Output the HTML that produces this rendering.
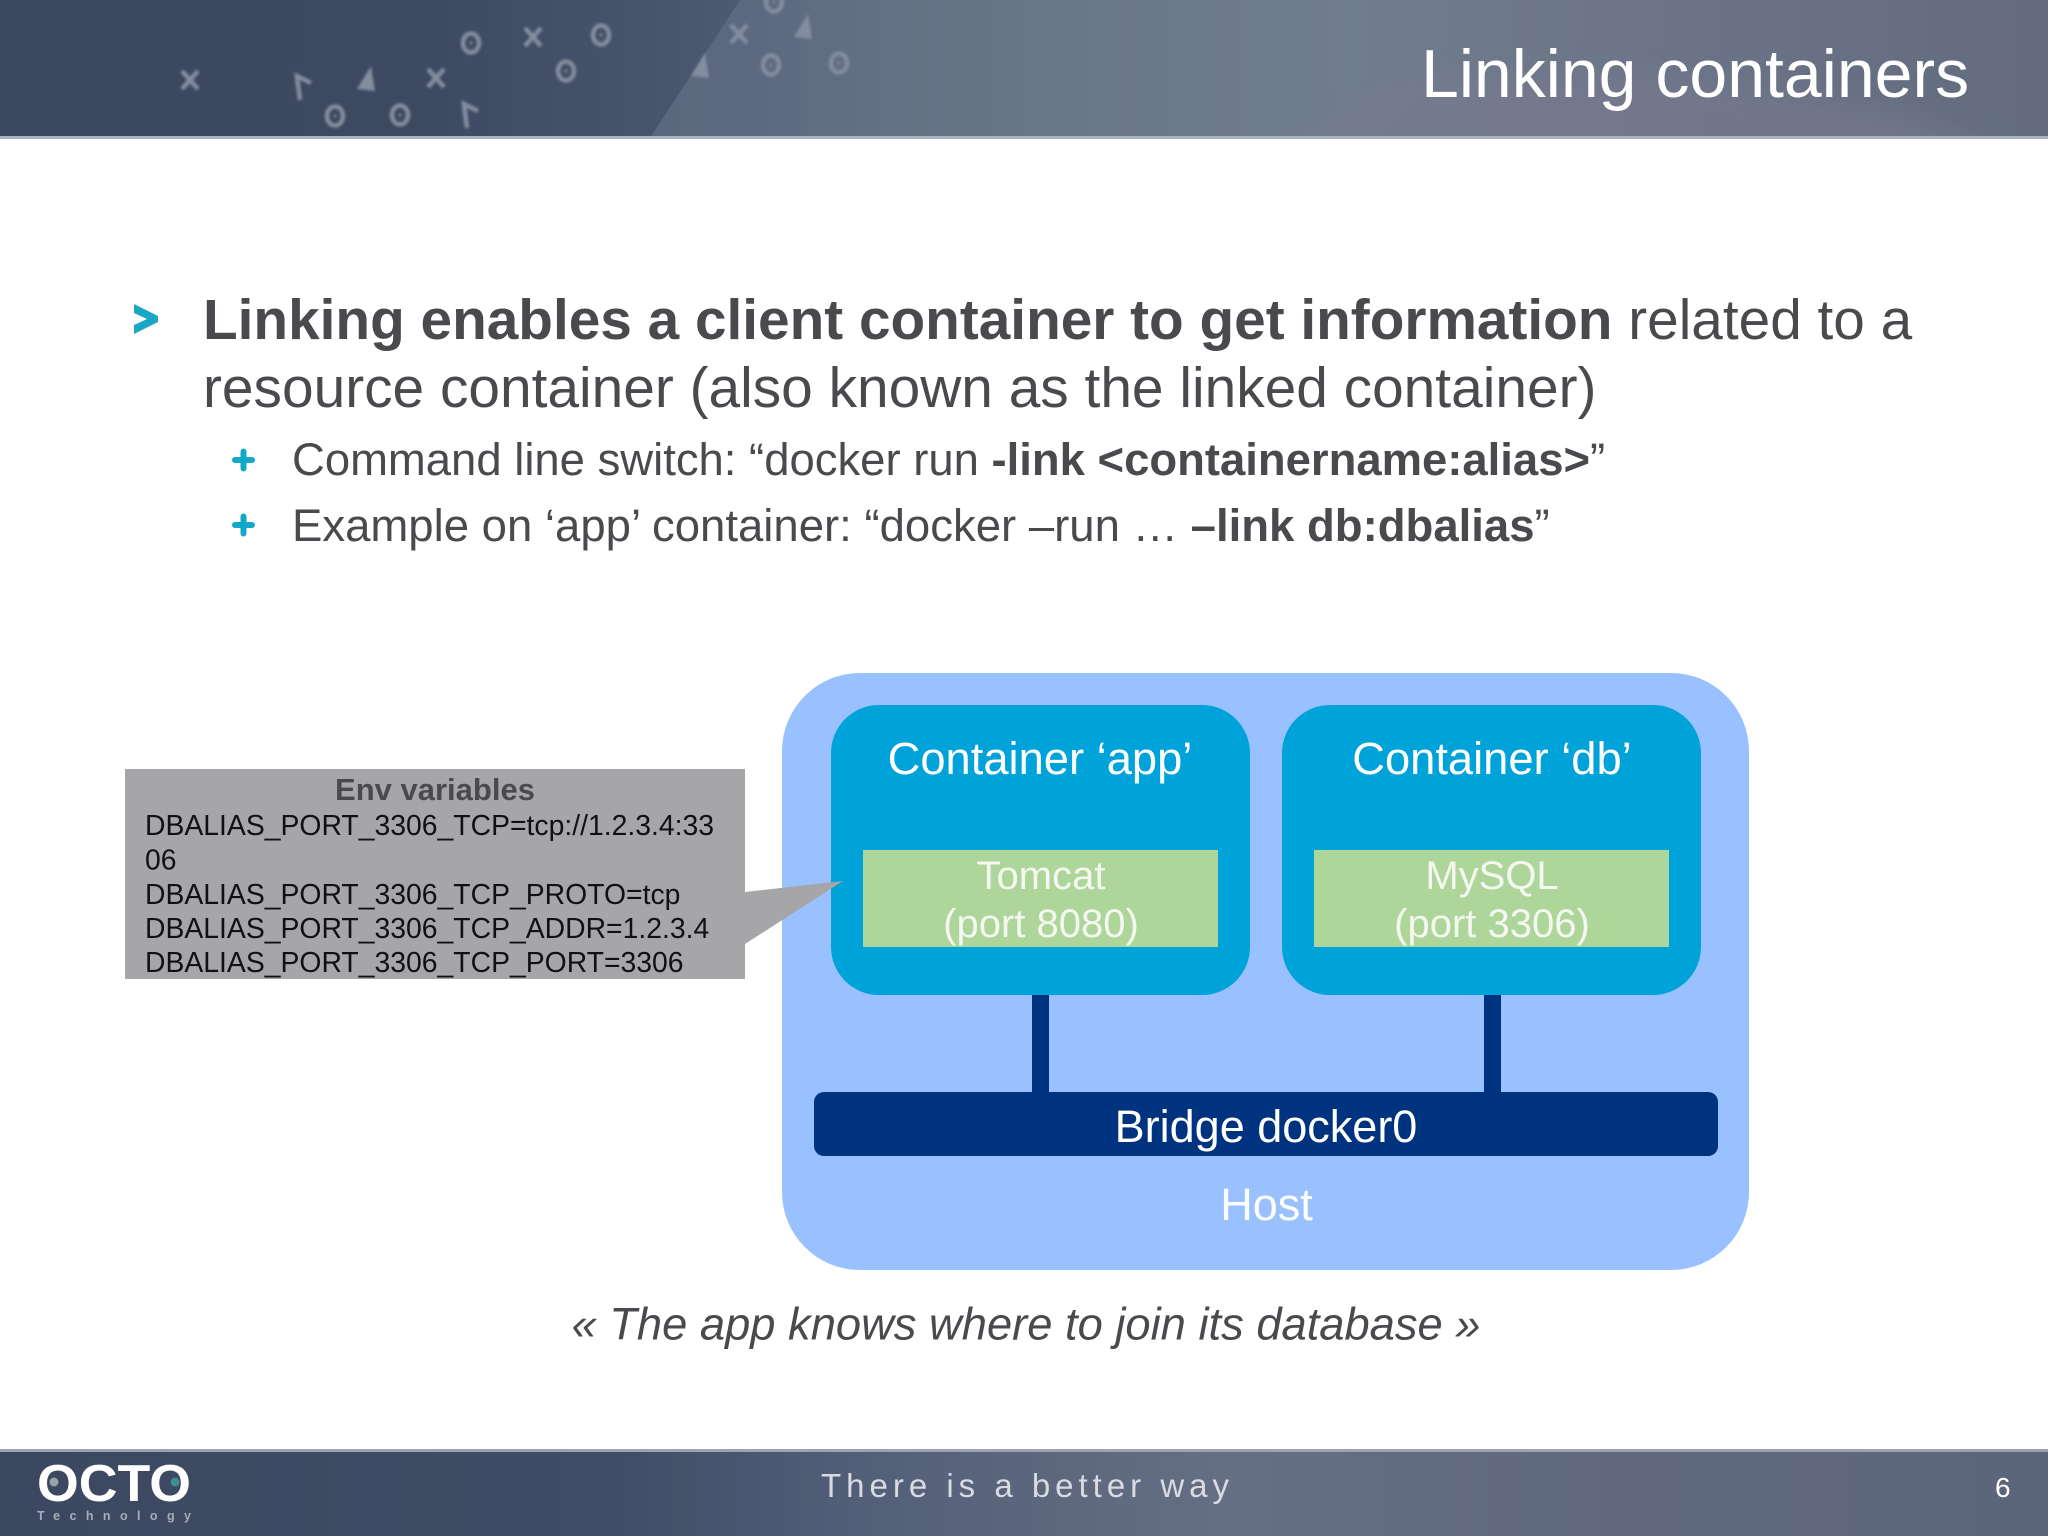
<!DOCTYPE html>
<html lang="en">
<head>
<meta charset="utf-8">
<title>Linking containers</title>
<style>
html,body{margin:0;padding:0;background:#fff}
svg{display:block}
text{font-family:"Liberation Sans",Arial,sans-serif}
</style>
</head>
<body>
<svg xmlns="http://www.w3.org/2000/svg" width="2048" height="1536" viewBox="0 0 2048 1536">
<defs>
<linearGradient id="hg" x1="0" y1="0" x2="1" y2="0">
<stop offset="0" stop-color="#3c4860"/>
<stop offset=".2" stop-color="#3d4961"/>
<stop offset=".3" stop-color="#455269"/>
<stop offset=".36" stop-color="#4c5a72"/>
<stop offset=".39" stop-color="#5f6c82"/>
<stop offset=".44" stop-color="#637284"/>
<stop offset=".54" stop-color="#6b7889"/>
<stop offset=".66" stop-color="#707d8c"/>
<stop offset=".8" stop-color="#6c7588"/>
<stop offset="1" stop-color="#626c7e"/>
</linearGradient>
<linearGradient id="fg" x1="0" y1="0" x2="1" y2="0">
<stop offset="0" stop-color="#3c4860"/>
<stop offset=".3" stop-color="#414d66"/>
<stop offset=".42" stop-color="#535f78"/>
<stop offset=".6" stop-color="#656f84"/>
<stop offset=".8" stop-color="#5f687d"/>
<stop offset="1" stop-color="#5c667a"/>
</linearGradient>
<clipPath id="hc"><rect x="0" y="0" width="2048" height="138"/></clipPath>
<filter id="b1" x="-10%" y="-10%" width="120%" height="120%"><feGaussianBlur stdDeviation="1.2"/></filter>
<filter id="b2" x="-10%" y="-50%" width="120%" height="200%"><feGaussianBlur stdDeviation="12"/></filter>
<g id="o"><ellipse cx="0" cy="0" rx="8" ry="9.5" fill="none" stroke="#828d9f" stroke-width="4.5"/><circle r="1.5" fill="#828d9f"/></g>
<g id="x"><path d="M-8,-9 L8,9 M8,-9 L-8,9" fill="none" stroke="#828d9f" stroke-width="4.5"/></g>
<g id="t"><path d="M-9,11 L5,-12 L9,13 Z" fill="#828d9f"/></g>
<g id="r"><path d="M-3,14 L-6,-10 L8,-3 M-6,-10 L-5,0" fill="none" stroke="#828d9f" stroke-width="4.5"/></g>
</defs>

<!-- header -->
<rect x="0" y="0" width="2048" height="138" fill="url(#hg)"/>
<polygon points="650,138 740,0 800,0 800,138" fill="#5e6b81" opacity=".85"/>
<g clip-path="url(#hc)">
<polygon points="1260,170 1400,80 1620,70 1900,110 2048,170" fill="#7a7a90" opacity=".5" filter="url(#b2)"/>
</g>
<rect x="0" y="136" width="2048" height="3" fill="#a8b2c0"/>
<g filter="url(#b1)">
<use href="#x" x="190" y="80"/>
<use href="#r" x="303" y="86"/>
<use href="#t" x="366" y="78"/>
<use href="#x" x="436" y="78"/>
<use href="#o" x="335" y="116"/>
<use href="#o" x="400" y="115"/>
<use href="#r" x="470" y="114"/>
<use href="#o" x="471" y="43"/>
<use href="#x" x="533" y="37"/>
<use href="#o" x="601" y="35"/>
<use href="#o" x="566" y="71"/>
<use href="#t" x="700" y="65"/>
<use href="#o" x="771" y="65"/>
<use href="#o" x="839" y="63"/>
<use href="#x" x="739" y="34"/>
<use href="#t" x="803" y="26"/>
<use href="#o" x="774" y="2"/>
</g>
<text x="1421" y="97" font-size="68" fill="#ffffff">Linking containers</text>

<!-- bullets -->
<polygon points="134,304 158,316 158,322 134,334 134,325 147,319 134,313" fill="#1aa7c4"/>
<text x="203" y="339" font-size="56.75" fill="#4a4a4e"><tspan font-weight="bold">Linking enables a client container to get information</tspan> related to a</text>
<text x="203" y="407" font-size="56.85" fill="#4a4a4e">resource container (also known as the linked container)</text>

<path d="M235,460 H252 M243.5,451.500 V468.500" stroke="#12a9c8" stroke-width="6" stroke-linecap="round" fill="none"/>
<path d="M235,525 H252 M243.5,516.500 V533.500" stroke="#12a9c8" stroke-width="6" stroke-linecap="round" fill="none"/>
<text x="292" y="475" font-size="45.45" fill="#4a4a4e">Command line switch: “docker run <tspan font-weight="bold">-link &lt;containername:alias&gt;</tspan>”</text>
<text x="292" y="541" font-size="45.5" fill="#4a4a4e">Example on ‘app’ container: “docker –run … <tspan font-weight="bold">–link db:dbalias</tspan>”</text>

<!-- diagram -->
<rect x="782" y="673" width="967" height="597" rx="78" ry="78" fill="#99c1ff"/>
<rect x="831" y="705" width="419" height="290" rx="48" ry="48" fill="#00a2da"/>
<rect x="1282" y="705" width="419" height="290" rx="48" ry="48" fill="#00a2da"/>
<rect x="863" y="850" width="355" height="97" fill="#aed69b"/>
<rect x="1314" y="850" width="355" height="97" fill="#aed69b"/>
<rect x="1032" y="995" width="17" height="98" fill="#00337f"/>
<rect x="1484" y="995" width="17" height="98" fill="#00337f"/>
<rect x="814" y="1092" width="904" height="64" rx="10" ry="10" fill="#00337f"/>

<text x="1040" y="774" font-size="45.3" fill="#ffffff" text-anchor="middle">Container ‘app’</text>
<text x="1492" y="774" font-size="45.3" fill="#ffffff" text-anchor="middle">Container ‘db’</text>
<text x="1041" y="889" font-size="40" fill="#f4f8f0" text-anchor="middle">Tomcat</text>
<text x="1041" y="937" font-size="40" fill="#f4f8f0" text-anchor="middle">(port 8080)</text>
<text x="1492" y="889" font-size="40" fill="#f4f8f0" text-anchor="middle">MySQL</text>
<text x="1492" y="937" font-size="40" fill="#f4f8f0" text-anchor="middle">(port 3306)</text>
<text x="1266" y="1142" font-size="45" fill="#ffffff" text-anchor="middle">Bridge docker0</text>
<text x="1266.500" y="1220" font-size="45" fill="#ffffff" text-anchor="middle">Host</text>

<!-- env callout -->
<polygon points="745,892 843,881 745,944" fill="#a6a5a8"/>
<rect x="125" y="769" width="620" height="210" fill="#a6a5a8"/>
<text x="435" y="800" font-size="31" font-weight="bold" fill="#4a4a4e" text-anchor="middle">Env variables</text>
<g font-size="28.35" fill="#111114">
<text x="145" y="835">DBALIAS_PORT_3306_TCP=tcp://1.2.3.4:33</text>
<text x="145" y="869.500">06</text>
<text x="145" y="904">DBALIAS_PORT_3306_TCP_PROTO=tcp</text>
<text x="145" y="938">DBALIAS_PORT_3306_TCP_ADDR=1.2.3.4</text>
<text x="145" y="972">DBALIAS_PORT_3306_TCP_PORT=3306</text>
</g>

<text x="1026" y="1339.500" font-size="45.3" font-style="italic" fill="#4a4a4e" text-anchor="middle">« The app knows where to join its database »</text>

<!-- footer -->
<rect x="0" y="1450" width="2048" height="86" fill="url(#fg)"/>
<rect x="0" y="1449" width="2048" height="3" fill="#9aa3b0"/>
<text x="37" y="1501" font-size="52" font-weight="bold" fill="#ffffff" textLength="154" lengthAdjust="spacingAndGlyphs">OCTO</text>
<circle cx="54" cy="1482" r="4.5" fill="#9aa0aa"/>
<circle cx="175" cy="1482" r="4.5" fill="#3f8c92"/>
<text x="37" y="1520" font-size="12.5" font-weight="bold" fill="#a7adba" textLength="154">Technology</text>
<text x="821" y="1497" font-size="33" fill="#d8dce2" textLength="408">There is a better way</text>
<text x="1995" y="1497" font-size="28" fill="#ffffff">6</text>
</svg>
</body>
</html>
